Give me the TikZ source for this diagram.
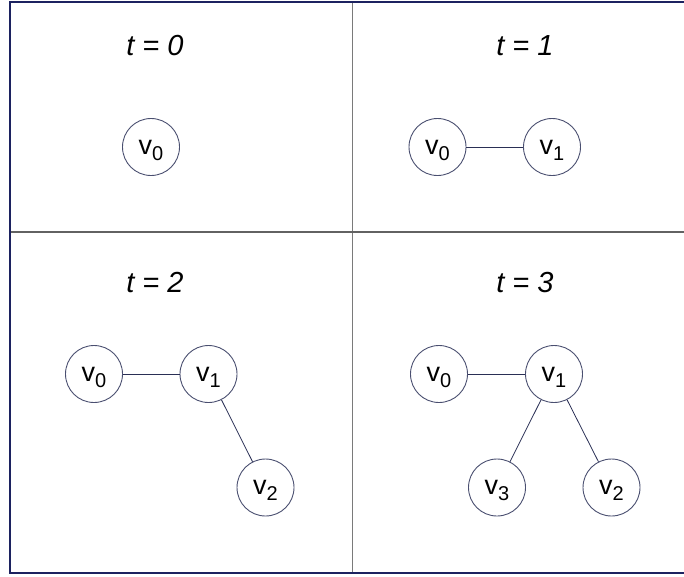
\documentclass[tikz,border=0pt]{standalone}
\usepackage{fontspec}
\setmainfont{Liberation Sans}
\usepackage{xcolor}
\usepackage{tikz}
\usetikzlibrary{positioning}
\definecolor{framenavy}{HTML}{1C2260}
\definecolor{rulegray}{HTML}{7A7A7A}
\definecolor{nodeline}{HTML}{4A4F70}
\definecolor{edgenavy}{HTML}{2A2F55}
\newcommand{\vlab}[1]{v\raisebox{-6pt}[0pt][0pt]{\fontsize{20}{20}\selectfont #1}}

\begin{document}
\begin{tikzpicture}[x=1pt, y=-1pt,
    vertex/.style={draw=nodeline, line width=0.9pt, circle, minimum size=57pt,
                   inner sep=0pt, font=\fontsize{27}{27}\selectfont},
    title/.style={font=\fontsize{29}{29}\selectfont\itshape},
    edge/.style={draw=edgenavy, line width=0.8pt}]
    \useasboundingbox (0,0) rectangle (684,576);
    \clip (0,0) rectangle (684,576);
    % frame and panel rules
    \draw[rulegray, line width=1.8pt] (352.5,2) -- (352.5,573);
    \draw[rulegray!80!black, line width=1.4pt] (10,232) -- (700,232);
    \draw[framenavy, line width=1.5pt] (10,2) rectangle (700,573);

    % t = 0
    \node[title] (t0) at (155,46) {t = 0};
    \node[vertex] (a0) at (151,147) {\vlab{0}};

    % t = 1
    \node[title] (t1) at (525,46) {t = 1};
    \node[vertex] (b0) at (437.5,147) {\vlab{0}};
    \node[vertex] (b1) at (552,147) {\vlab{1}};
    \draw[edge] (b0) -- (b1);

    % t = 2
    \node[title] (t2) at (155,283) {t = 2};
    \node[vertex] (c0) at (94,374) {\vlab{0}};
    \node[vertex] (c1) at (208.5,374) {\vlab{1}};
    \node[vertex] (c2) at (265.5,487.5) {\vlab{2}};
    \draw[edge] (c0) -- (c1);
    \draw[edge] (c1) -- (c2);

    % t = 3
    \node[title] (t3) at (525,283) {t = 3};
    \node[vertex] (d0) at (439,374) {\vlab{0}};
    \node[vertex] (d1) at (554,374) {\vlab{1}};
    \node[vertex] (d3) at (497,487.5) {\vlab{3}};
    \node[vertex] (d2) at (611.5,487.5) {\vlab{2}};
    \draw[edge] (d0) -- (d1);
    \draw[edge] (d1) -- (d3);
    \draw[edge] (d1) -- (d2);
\end{tikzpicture}
\end{document}
